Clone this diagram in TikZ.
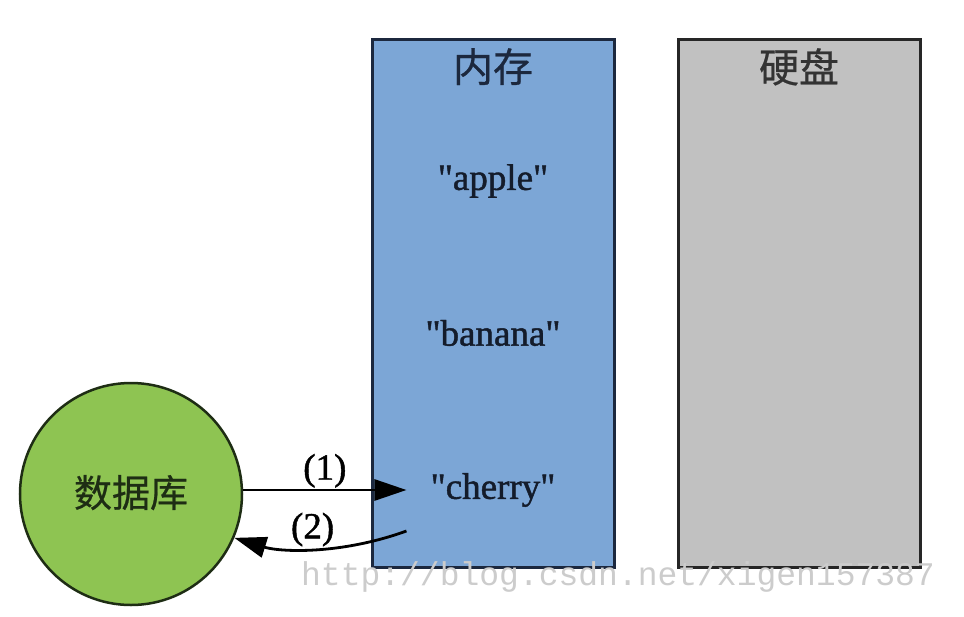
\documentclass[tikz,border=0pt]{standalone}
\usepackage{fontspec}
\setmainfont{Liberation Serif}
\newfontfamily\itemfont[FakeBold=1.2]{Liberation Serif}
\newfontfamily\cjk[FakeBold=0.6]{Noto Sans CJK SC}
\newfontfamily\wmfont{Liberation Mono}
\usetikzlibrary{shapes, arrows.meta, positioning}

\definecolor{memblue}{RGB}{124,166,214}
\definecolor{memline}{RGB}{28,40,62}
\definecolor{diskgray}{RGB}{193,193,193}
\definecolor{dbgreen}{RGB}{142,196,82}
\definecolor{dbline}{RGB}{30,45,20}

\newcommand{\qt}[1]{\symbol{34}#1\symbol{34}}

\tikzset{
    block/.style={
        rectangle, minimum width=242pt, minimum height=528pt, line width=3pt, inner sep=0pt
    },
    membox/.style={block, draw=memline, fill=memblue},
    diskbox/.style={block, draw=black!85, fill=diskgray},
    title/.style={
        font=\cjk\fontsize{40}{44}\selectfont, inner sep=0pt
    },
    item/.style={
        font=\itemfont\fontsize{37}{40}\selectfont, text=memline!70!black, inner xsep=24pt, inner ysep=0pt
    },
    lbl/.style={
        font=\itemfont\fontsize{37}{40}\selectfont, inner sep=1pt
    },
    arrow/.style={
        line width=2.8pt, -{Triangle[length=32pt, width=21pt]}
    }
}

\begin{document}
\begin{tikzpicture}[x=1pt, y=-1pt]
    \useasboundingbox[fill=white] (0,0) rectangle (964,616);

    % Memory
    \node[membox] (mem) at (493,303.5) {};
    \node[title, text=memline, below=10pt of mem.north] (memtitle) {内存};
    \node[item] (apple) at (493,181) {\qt{apple}};
    \node[item] (banana) at (493,333) {\qt{banana}};
    \node[item] (cherry) at (493,490) {\qt{cherry}};

    % Disk
    \node[diskbox] (disk) at (799,303.5) {};
    \node[title, text=black!80, below=10pt of disk.north] (disktitle) {硬盘};

    % Database
    \node[circle, draw=dbline, fill=dbgreen, line width=2.5pt, minimum size=222pt,
          font=\cjk\fontsize{38}{42}\selectfont, text=dbline] (db) at (131,494) {\raisebox{6pt}{数据库}};

    % Relationships
    \coordinate (ret) at ([yshift=-41pt]cherry.west);
    \draw[arrow] (db.east |- cherry.west) -- node[lbl, above] {(1)} (cherry.west);
    \draw[arrow] (ret) .. controls (340,555) and (280,552) .. node[lbl, above] {(2)} (db.-23);

    % Watermark
    \node[font=\wmfont\fontsize{33}{36}\selectfont, text=black!20] (wm) at (618,577) {http://blog.csdn.net/xigen157387};

\end{tikzpicture}
\end{document}
